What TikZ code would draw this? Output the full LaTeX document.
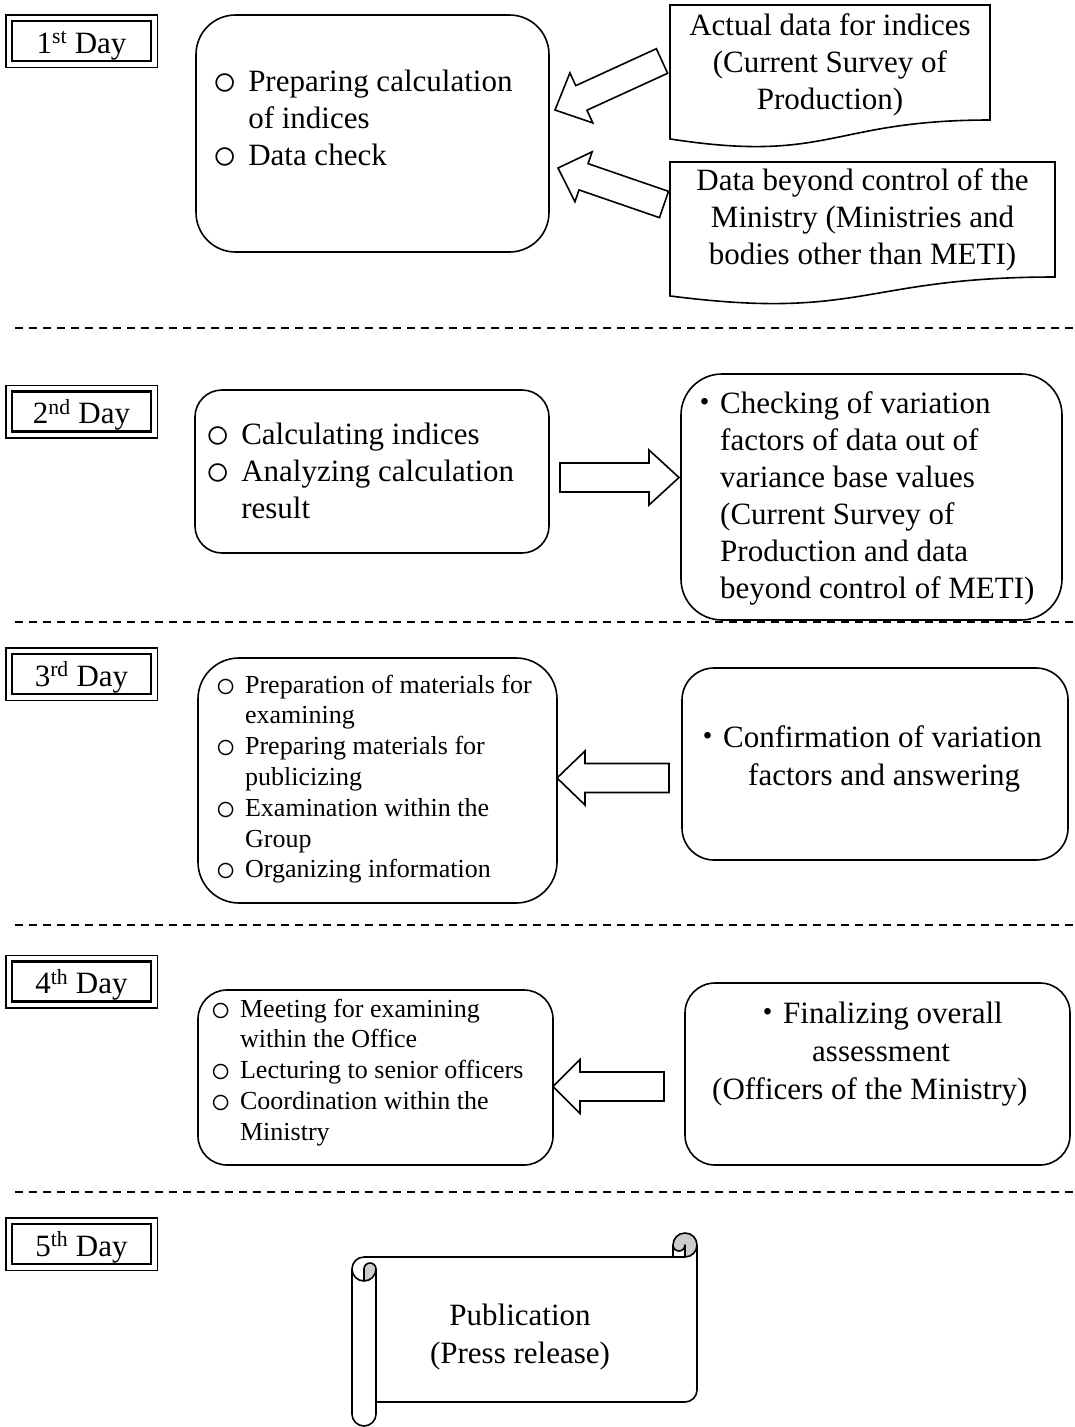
\documentclass[tikz,border=0pt]{standalone}
\usepackage{fontspec}
\usepackage{graphicx}
\setmainfont{Liberation Serif}
\newfontfamily\cjkfont{Noto Sans CJK JP}
\usetikzlibrary{calc}

% list mark and Japanese middle dot
\newcommand{\circmark}{\makebox[1.15em][l]{\smash{\raisebox{-0.15em}{\scalebox{1.35}{○}}}}}
\newcommand{\jdot}{{\cjkfont ・}}

% outlined block arrow: #1 name, #2 tail, #3 tip, #4 shaft half width, #5 head half width, #6 head length
\newcommand{\blockarrow}[6]{%
  \coordinate (#1b) at ($(#3)!#6!(#2)$);
  \draw[barrow] ($(#2)!#4!90:(#3)$) -- ($(#1b)!#4!90:(#3)$) -- ($(#1b)!#5!90:(#3)$)
    -- (#3) -- ($(#1b)!#5!-90:(#3)$) -- ($(#1b)!#4!-90:(#3)$) -- ($(#2)!#4!-90:(#3)$) -- cycle;
}

\begin{document}
\begin{tikzpicture}[x=1pt,y=-1pt,
  rbox/.style={draw, line width=1.6pt, inner sep=0pt, outer sep=0pt, fill=white},
  ghost/.style={inner sep=0pt, outer sep=0pt, draw=none},
  bigtext/.style={font=\fontsize{31}{37}\selectfont, inner sep=0pt, align=left, anchor=north west},
  widetext/.style={font=\fontsize{31}{38}\selectfont, inner sep=0pt, align=left, anchor=north west},
  smalltext/.style={font=\fontsize{26}{30.8}\selectfont, inner sep=0pt, align=left, anchor=north west},
  daybox/.style={draw, line width=2.5pt, inner sep=0pt, minimum width=139, minimum height=40,
    text height=29, text depth=5, font=\fontsize{31}{37}\selectfont},
  dayframe/.style={line width=1.5pt},
  sepline/.style={line width=1.3pt, dash pattern=on 8pt off 6pt},
  barrow/.style={draw, line width=1.6pt, fill=white, line join=miter},
  docline/.style={line width=1.6pt, line join=miter},
  scrollline/.style={line width=1.6pt, line join=round},
  curl/.style={fill=gray!40}
]
\useasboundingbox[fill=white] (0,0) rectangle (1075,1427);

% separators between the days
\foreach \yy in {328,622,925,1192} \draw[sepline] (15,\yy) -- (1075,\yy);

% day labels with double frame
\node[daybox] (day1) at (81.5,41) {1\textsuperscript{st} Day};
\node[daybox] (day2) at (81.5,411.5) {2\textsuperscript{nd} Day};
\node[daybox] (day3) at (81.5,674) {3\textsuperscript{rd} Day};
\node[daybox] (day4) at (81.5,981.5) {4\textsuperscript{th} Day};
\node[daybox] (day5) at (81.5,1244) {5\textsuperscript{th} Day};
\foreach \d in {day1,day2,day3,day4,day5}
  \draw[dayframe] ($(\d.north west)+(-5,-5)$) rectangle ($(\d.south east)+(5,5)$);

% ---------- 1st day ----------
\node[rbox, minimum width=353, minimum height=237, rounded corners=39.5pt] (a1) at (372.5,133.5) {};
\node[bigtext] (a1t) at (212.4,65.1) {\strut\circmark Preparing calculation\\\hspace*{1.15em}of indices\\\circmark Data check};

\node[ghost, minimum width=320, minimum height=143.4] (d1) at (830,76.7) {};
\draw[docline] (d1.north west) -- (d1.north east) -- ($(d1.north east)!0.802!(d1.south east)$)
  .. controls ($(d1.north)!0.802!(d1.south)$) and ($(d1.north)!1.1075!(d1.south)$) ..
  ($(d1.north west)!0.934!(d1.south west)$) -- cycle;
\node[bigtext, anchor=north, align=center] (d1t) at (830,9.1) {\strut Actual data for indices\\(Current Survey of\\Production)};

\node[ghost, minimum width=385, minimum height=143.4] (d2) at (862.5,233.7) {};
\draw[docline] (d2.north west) -- (d2.north east) -- ($(d2.north east)!0.802!(d2.south east)$)
  .. controls ($(d2.north)!0.802!(d2.south)$) and ($(d2.north)!1.1075!(d2.south)$) ..
  ($(d2.north west)!0.934!(d2.south west)$) -- cycle;
\node[bigtext, anchor=north, align=center] (d2t) at (862.5,164.1) {\strut Data beyond control of the\\Ministry (Ministries and\\bodies other than METI)};

\coordinate (ar1s) at ($(d1.west)+(-8,-15.7)$);
\coordinate (ar1e) at ($(a1.east)+(6,-23.5)$);
\blockarrow{ar1}{ar1s}{ar1e}{13.5pt}{27.5pt}{29pt}
\coordinate (ar2s) at ($(d2.west)+(-6,-29.2)$);
\coordinate (ar2e) at ($(a1.east)+(9,34.5)$);
\blockarrow{ar2}{ar2s}{ar2e}{13.9pt}{26.4pt}{27pt}

% ---------- 2nd day ----------
\node[rbox, minimum width=354, minimum height=163, rounded corners=27pt] (b1) at (372,471.5) {};
\node[bigtext] (b1t) at (205.4,418.1) {\strut\circmark Calculating indices\\\circmark Analyzing calculation\\\hspace*{1.15em}result};

\node[rbox, minimum width=381, minimum height=246, rounded corners=41pt] (b2) at (871.5,497) {};
\node[bigtext] (b2t) at (689,387.1) {\strut\jdot Checking of variation\\\hspace*{1em}factors of data out of\\\hspace*{1em}variance base values\\\hspace*{1em}(Current Survey of\\\hspace*{1em}Production and data\\\hspace*{1em}beyond control of METI)};

\coordinate (ar3s) at ($(b1.east)+(11,6)$);
\coordinate (ar3e) at ($(b2.west)+(-2,-19.5)$);
\blockarrow{ar3}{ar3s}{ar3e}{14.5pt}{27.5pt}{30pt}

% ---------- 3rd day ----------
\node[rbox, minimum width=359, minimum height=245, rounded corners=41pt] (c1) at (377.5,780.5) {};
\node[smalltext] (c1t) at (215,671.4) {\strut\circmark Preparation of materials for\\\hspace*{1.15em}examining\\\circmark Preparing materials for\\\hspace*{1.15em}publicizing\\\circmark Examination within the\\\hspace*{1.15em}Group\\\circmark Organizing information};

\node[rbox, minimum width=386, minimum height=192, rounded corners=32pt] (c2) at (875,764) {};
\node[widetext] (c2t) at (692,720.4) {\strut\jdot Confirmation of variation\\\hspace*{56pt}factors and answering};

\coordinate (ar4s) at ($(c2.west)+(-13,14)$);
\coordinate (ar4e) at ($(c1.east)+(0,-2.5)$);
\blockarrow{ar4}{ar4s}{ar4e}{14.5pt}{27pt}{28pt}

% ---------- 4th day ----------
\node[rbox, minimum width=355, minimum height=175, rounded corners=29pt] (e1) at (375.5,1077.5) {};
\node[smalltext] (e1t) at (210,995.4) {\strut\circmark Meeting for examining\\\hspace*{1.15em}within the Office\\\circmark Lecturing to senior officers\\\circmark Coordination within the\\\hspace*{1.15em}Ministry};

\node[rbox, minimum width=385, minimum height=182, rounded corners=30pt] (e2) at (877.5,1074) {};
\node[widetext] (e2t) at (712,996.4) {\strut\hspace*{40pt}\jdot Finalizing overall\\\hspace*{100pt}assessment\\(Officers of the Ministry)};

\coordinate (ar5s) at ($(e2.west)+(-21,12.5)$);
\coordinate (ar5e) at ($(e1.east)+(0,9)$);
\blockarrow{ar5}{ar5s}{ar5e}{14.5pt}{27pt}{27pt}

% ---------- 5th day: horizontal scroll ----------
\node[ghost, minimum width=345, minimum height=193] (pub) at (524.5,1329.5) {};
\begin{scope}[shift={(pub.north west)}]
  \fill[white] (0,36) arc[start angle=180, delta angle=90, radius=12] -- (321,24) -- (321,12)
    arc[start angle=180, delta angle=180, radius=12] -- (345,157)
    arc[start angle=0, delta angle=90, radius=12] -- (24,169) -- (24,181)
    arc[start angle=0, delta angle=180, radius=12] -- cycle;
  \fill[curl] (12,48) arc[start angle=90, delta angle=-90, radius=12]
    arc[start angle=0, delta angle=-180, radius=6] -- cycle;
  \fill[curl] (333,24) arc[start angle=90, delta angle=-270, radius=12]
    arc[start angle=180, delta angle=-180, radius=6] -- cycle;
  \draw[scrollline] (0,36) arc[start angle=180, delta angle=90, radius=12] -- (321,24) -- (321,12)
    arc[start angle=180, delta angle=180, radius=12] -- (345,157)
    arc[start angle=0, delta angle=90, radius=12] -- (24,169) -- (24,181)
    arc[start angle=0, delta angle=180, radius=12] -- cycle;
  \draw[scrollline] (321,24) -- (333,24) arc[start angle=90, delta angle=-90, radius=12];
  \draw[scrollline] (333,24) -- (333,12) arc[start angle=0, delta angle=180, radius=6];
  \draw[scrollline] (12,48) -- (12,36) arc[start angle=180, delta angle=180, radius=6]
    arc[start angle=0, delta angle=180, radius=12];
  \draw[scrollline] (24,36) -- (24,169);
\end{scope}
\node[widetext, anchor=north, align=center] (pubt) at (520,1298.4) {\strut Publication\\(Press release)};

\end{tikzpicture}
\end{document}
